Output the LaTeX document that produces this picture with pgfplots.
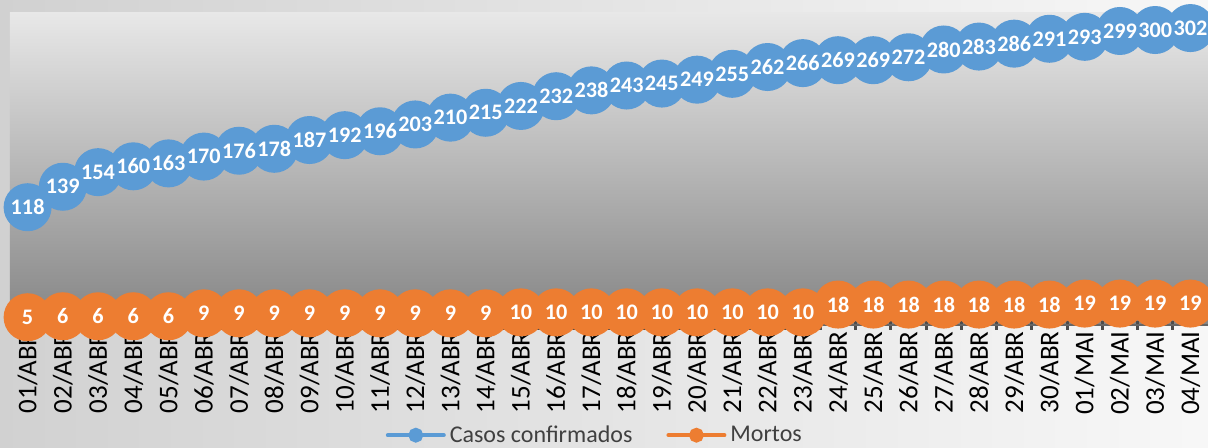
\documentclass[border=0pt]{standalone}
\usepackage{pgfplots}
\usepackage{pgfplotstable}
\pgfplotsset{compat=1.18}
\usepackage{fontspec}
\setmainfont{Carlito}

\definecolor{azul}{HTML}{5B9BD5}
\definecolor{laranja}{HTML}{ED7D31}
\definecolor{texto}{HTML}{404040}

\pgfplotstableread{
x casos mortos
0  118 5
1  139 6
2  154 6
3  160 6
4  163 6
5  170 9
6  176 9
7  178 9
8  187 9
9  192 9
10 196 9
11 203 9
12 210 9
13 215 9
14 222 10
15 232 10
16 238 10
17 243 10
18 245 10
19 249 10
20 255 10
21 262 10
22 266 10
23 269 18
24 269 18
25 272 18
26 280 18
27 283 18
28 286 18
29 291 18
30 293 19
31 299 19
32 300 19
33 302 19
}\dados

\begin{document}
\begin{tikzpicture}
\path[use as bounding box] (0,0) rectangle (604pt,223.5pt);
\shade[left color=black!18, right color=black!3] (0,0) rectangle (604pt,223.5pt);
\begin{axis}[
    at={(5pt,61pt)}, anchor=south west,
    scale only axis, width=599pt, height=156.5pt,
    xmin=-0.5, xmax=33.5, ymin=-3, ymax=318.5,
    clip=false,
    axis y line=none, axis x line*=bottom,
    x axis line style={draw=black!60, line width=1pt, -},
    xtick={0,...,33},
    xticklabels={01/ABR,02/ABR,03/ABR,04/ABR,05/ABR,06/ABR,07/ABR,08/ABR,09/ABR,10/ABR,
        11/ABR,12/ABR,13/ABR,14/ABR,15/ABR,16/ABR,17/ABR,18/ABR,19/ABR,20/ABR,
        21/ABR,22/ABR,23/ABR,24/ABR,25/ABR,26/ABR,27/ABR,28/ABR,29/ABR,30/ABR,
        01/MAI,02/MAI,03/MAI,04/MAI},
    major tick length=0pt,
    minor xtick={0.5,1.5,...,32.5},
    minor tick length=4.5pt, tick align=center,
    minor tick style={draw=black!70, line width=1.5pt},
    xticklabel shift=3pt,
    xticklabel style={rotate=90, anchor=east, inner sep=0pt,
        font=\fontsize{13.5}{14}\selectfont, text=black},
    axis background/.style={top color=black!9, bottom color=black!48},
    /pgf/number format/assume math mode=true,
    legend columns=2,
    legend style={at={(0.489,-0.352)}, anchor=center, draw=none, fill=none,
        font=\fontsize{12}{13}\selectfont, text=texto,
        /tikz/every even column/.append style={column sep=15pt}},
    rotulo/.style={draw=none, mark=none, forget plot,
        nodes near coords,
        nodes near coords style={anchor=center, inner sep=0pt,
            font=\bfseries\fontsize{11.1}{13}\selectfont, text=white}},
]
\addplot[color=azul, line width=2pt, mark=*, mark size=11pt,
    mark options={fill=azul, draw=azul},
    legend image code/.code={
        \draw[azul, line width=2pt, line cap=round] (0pt,0pt) -- (28pt,0pt);
        \fill[azul] (14pt,0pt) circle (2.7pt);}]
    table[x=x, y=casos] {\dados};
\addlegendentry{Casos confirmados}
\addplot[color=laranja, line width=2pt, mark=*, mark size=11pt,
    mark options={fill=laranja, draw=laranja},
    legend image code/.code={
        \draw[laranja, line width=2pt, line cap=round] (0pt,0pt) -- (28pt,0pt);
        \fill[laranja] (14pt,0pt) circle (2.7pt);}]
    table[x=x, y=mortos] {\dados};
\addlegendentry{Mortos}
% data labels drawn last so no marker covers them
\addplot[rotulo] table[x=x, y=casos] {\dados};
\addplot[rotulo] table[x=x, y=mortos] {\dados};
\end{axis}
\end{tikzpicture}
\end{document}
